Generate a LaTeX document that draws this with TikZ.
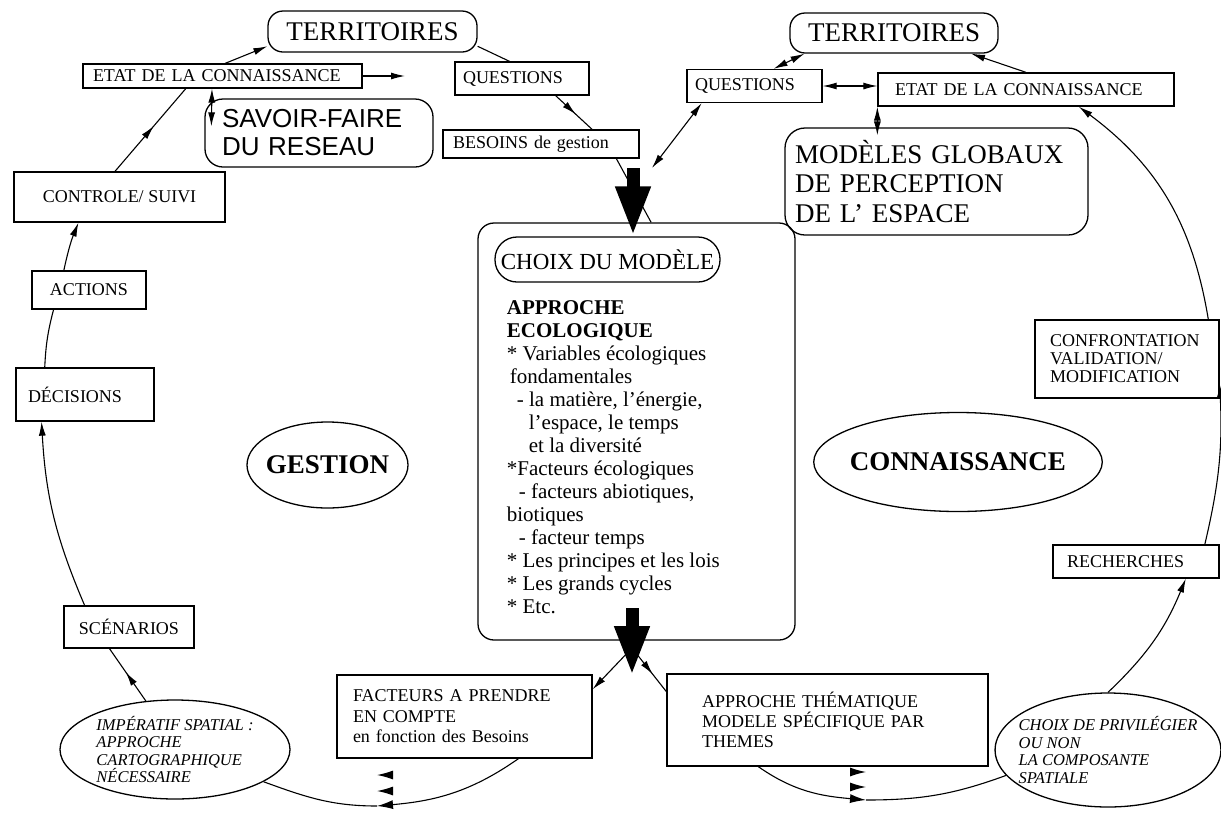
\documentclass[tikz,border=0pt]{standalone}
\usepackage{fontspec}
\setmainfont{Liberation Serif}
\newfontfamily\savoirsans{Liberation Sans}
\usepackage{tikz}
\usetikzlibrary{shapes,arrows,arrows.meta,positioning,calc,decorations.markings}

\begin{document}
\begin{tikzpicture}[x=1pt, y=-1pt, line width=1.1pt,
    >={Latex[length=14pt,width=7pt]},
    lbl/.style={draw, rectangle, line width=1.3pt, inner ysep=0pt, font=\fontsize{18}{20}\selectfont},
    lbll/.style={lbl, align=left},
    rbox/.style={draw, rectangle, rounded corners=#1, line width=1.3pt, inner ysep=0pt},
    oval/.style={draw, ellipse, line width=1.3pt, inner ysep=0pt, align=left},
    bigtitle/.style={font=\bfseries\fontsize{27}{30}\selectfont},
    spatial/.style={font=\itshape\fontsize{16.5}{17.5}\selectfont},
    midarrow/.style={postaction={decorate}, decoration={markings, mark=at position #1 with {\arrow{>}}}},
    bigarrow/.style={line width=13pt, -{Triangle[length=50pt,width=32pt]}},
    tinytip/.style={-{Latex[length=16pt,width=9pt]}}]
      \useasboundingbox (0,0) rectangle (1221,812);

      \node[rbox=15pt, minimum width=209pt, minimum height=41pt, font=\fontsize{27}{30}\selectfont] (terrg) at (372.5,31.5) {TERRITOIRES};
      \node[lbll, inner xsep=10pt, text width=259pt, minimum height=24pt] (etatg) at (222.5,76) {ETAT DE LA CONNAISSANCE};
      \node[rbox=18pt, align=left, inner xsep=17pt, text width=194pt, minimum height=68pt, font=\savoirsans\fontsize{26}{28}\selectfont] (savoir) at (319,133) {SAVOIR-FAIRE\\DU RESEAU};
      \node[lbl, minimum width=211pt, minimum height=50pt] (controle) at (119.5,197) {CONTROLE/ SUIVI};
      \node[lbl, minimum width=114pt, minimum height=38pt] (actions) at (89,290) {ACTIONS};
      \node[lbll, inner xsep=12pt, text width=114pt, minimum height=53pt] (decisions) at (85,394.5) {DÉCISIONS};
      \node[lbl, minimum width=130pt, minimum height=42pt] (scenarios) at (129,627) {SCÉNARIOS};
      \node[oval, spatial, inner xsep=-7pt, minimum width=230pt, minimum height=99pt] (imperatif) at (175,749.5) {IMPÉRATIF SPATIAL :\\APPROCHE\\CARTOGRAPHIQUE\\NÉCESSAIRE};
      \node[oval, bigtitle, inner xsep=-5pt, minimum width=161pt, minimum height=86pt] (gestion) at (327.5,465) {GESTION};

      \node[lbll, inner xsep=8pt, text width=118pt, minimum height=33pt] (questg) at (522,78.5) {QUESTIONS};
      \node[lbll, inner xsep=10pt, text width=176pt, minimum height=28pt] (besoins) at (541,144) {BESOINS de gestion};
      \node[rbox=16pt, minimum width=317pt, minimum height=417pt] (modele) at (636.5,431.5) {};
      \node[rbox=22pt, minimum width=225pt, minimum height=45pt, font=\fontsize{23}{25}\selectfont] (choix) at (607.5,259.5) {CHOIX DU MODÈLE};
      \node[anchor=north west, inner sep=0pt, align=left, font=\fontsize{21}{23}\selectfont] (approche) at ([xshift=12pt,yshift=-17pt]choix.south west)
        {\textbf{APPROCHE}\\
         \textbf{ECOLOGIQUE}\\
         * Variables écologiques\\
         \hspace*{3pt}fondamentales\\
         \hspace*{10pt}- la matière, l'énergie,\\
         \hspace*{22pt}l'espace, le temps\\
         \hspace*{22pt}et la diversité\\
         *Facteurs écologiques\\
         \hspace*{12pt}- facteurs abiotiques,\\
         biotiques\\
         \hspace*{12pt}- facteur temps\\
         * Les principes et les lois\\
         * Les grands cycles\\
         * Etc.};
      \node[lbll, inner xsep=16pt, text width=223pt, minimum height=83pt, font=\fontsize{18}{20.5}\selectfont] (facteurs) at (464.5,716.5) {FACTEURS A PRENDRE\\EN COMPTE\\en fonction des Besoins};
      \node[lbll, inner xsep=35pt, text width=251pt, minimum height=92pt] (theme) at (827.5,720) {APPROCHE THÉMATIQUE\\MODELE SPÉCIFIQUE PAR\\THEMES};

      \node[rbox=15pt, minimum width=208pt, minimum height=40pt, font=\fontsize{27}{30}\selectfont] (terrd) at (894,33) {TERRITOIRES};
      \node[lbll, inner xsep=8pt, text width=119pt, minimum height=33pt] (questd) at (754.5,86) {QUESTIONS};
      \node[lbll, inner xsep=17pt, text width=262pt, minimum height=33pt] (etatd) at (1026,89.5) {ETAT DE LA CONNAISSANCE};
      \node[rbox=20pt, align=left, inner xsep=10pt, text width=283pt, minimum height=107pt, font=\fontsize{27}{29.5}\selectfont] (modglob) at (936.5,181.5) {MODÈLES GLOBAUX\\DE PERCEPTION\\DE L' ESPACE};
      \node[lbll, inner xsep=15pt, text width=154pt, minimum height=78pt, font=\fontsize{18}{18}\selectfont] (confront) at (1127,359) {CONFRONTATION\\VALIDATION/\\MODIFICATION};
      \node[oval, bigtitle, inner xsep=-6pt, minimum width=287pt, minimum height=99pt] (connais) at (958,462) {CONNAISSANCE};
      \node[lbll, inner xsep=14pt, text width=138pt, minimum height=33pt] (recherches) at (1136,561.5) {RECHERCHES};
      \node[oval, spatial, inner xsep=-9.5pt, minimum width=224pt, minimum height=114pt] (choixsp) at (1108,750) {CHOIX DE PRIVILÉGIER\\OU NON\\LA COMPOSANTE\\SPATIALE};

      \coordinate (etatgend) at (405,76);
      \coordinate (merge) at (633,168);
      \coordinate (mergeR) at (652,168);
      \coordinate (split) at (632,648);
      \coordinate (lowl) at (377,806);
      \coordinate (lowr) at (866,800);

      \draw[midarrow=0.55] (imperatif.121) -- (scenarios.228);
      \draw[->] (scenarios.154) to[bend left=10] (decisions.212);
      \draw (decisions.146) to[bend left=6] (actions.209);
      \draw[->] (actions.142) to[bend left=5] (controle.212);
      \draw[midarrow=0.55] (controle.100) -- (etatg.199);
      \draw[->] (etatg.78) -- (terrg.188);
      \draw[->] (etatg.east) -- (etatgend);
      \draw[<->] ([xshift=-10.5pt]etatg.south) -- ([xshift=7pt,yshift=-28pt]savoir.north west);
      \draw (terrg.352) -- (questg.126);
      \draw[midarrow=0.55] (questg.333) -- (besoins.16);
      \draw (besoins.349) -- (modele.86);
      \draw[<->] (questd.198) -- (mergeR);
      \draw[<->] (questd.42) -- (terrd.193);
      \draw[<->] (questd.east) -- (questd.east -| etatd.west);
      \draw[<->] (etatd.south west) -- ([yshift=-8pt]etatd.south west |- modglob.north);
      \draw[->] (etatd.north) -- (terrd.345);
      \draw[->] (confront.26) to[bend right=22] (etatd.342);
      \draw[->] (recherches.14) to[bend right=8] (confront.345);
      \draw[->] (choixsp.north) to[bend right=12] (recherches.341);
      \draw[->] (split) -- (facteurs.12);
      \draw[midarrow=0.6] (split) -- (theme.170);
      \draw[tinytip] (facteurs.322) to[out=215,in=5] (lowl);
      \draw (lowl) to[out=180,in=-20] (imperatif.340);
      \draw[tinytip] (theme.214) to[out=-35,in=175] (lowr);
      \draw (lowr) to[out=0,in=200] (choixsp.194);
      \foreach \yy in {775,791} \draw[tinytip] (393,\yy) -- (377,\yy);
      \foreach \yy in {772,787} \draw[tinytip] (850,\yy) -- (866,\yy);

      \draw[bigarrow] (merge) -- (merge |- choix.north);
      \draw[bigarrow] ($(split)+(0,-40)$) -- ($(split)+(0,28)$);
\end{tikzpicture}
\end{document}
